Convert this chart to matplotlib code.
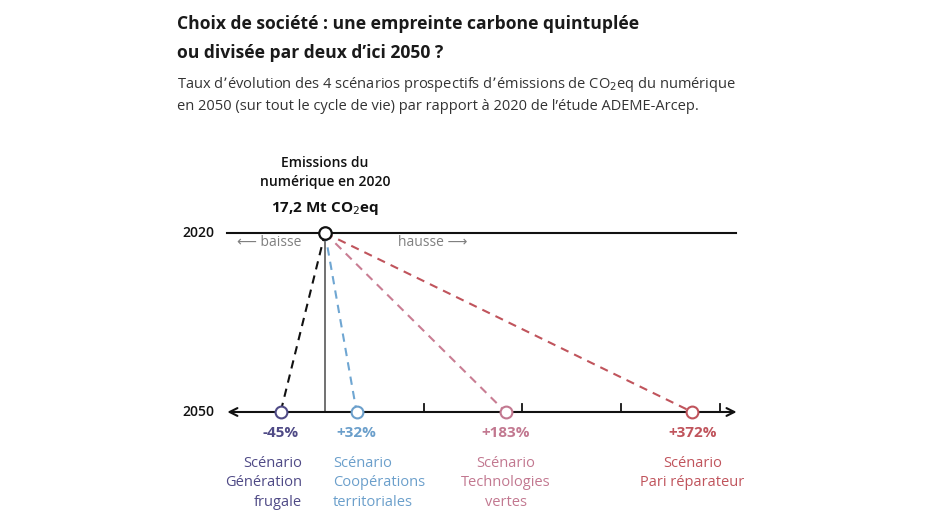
import matplotlib.pyplot as plt

# Data: evolution 2020 -> 2050 (%) for each ADEME-Arcep scenario
scenarios = ["Scénario\nGénération\nfrugale",
             "Scénario\nCoopérations\nterritoriales",
             "Scénario\nTechnologies\nvertes",
             "Scénario\nPari réparateur"]
evolution = [-45, 32, 183, 372]
labels = ["-45%", "+32%", "+183%", "+372%"]
tick_values = [100, 200, 300, 400]
years = [2020, 2050]
emissions_2020 = "17,2 Mt CO$_2$eq"

text_colors = ["#4f4a86", "#6b9fcb", "#c27890", "#c0545c"]
line_colors = ["#111111", "#6fa6d2", "#c97d93", "#c0545c"]
label_ha = ["right", "left", "center", "center"]
label_dx = [22, -24, 0, 0]

plt.rcParams['font.family'] = ['Open Sans', 'DejaVu Sans']

fig = plt.figure(figsize=(9.28, 5.21), dpi=100)
ax = fig.add_axes([0, 0, 1, 1])
# x: % change (0 at px 325, ~0.987 px per %); y: year (2020 at px 233, 2050 at px 412)
ax.set_xlim(-329.3, 610.9)
ax.set_ylim(2068.27, 1980.95)
ax.axis('off')

y0, y1 = years

# 2020 line
ax.plot([-99, 416], [y0, y0], color='#111111', lw=1.5, zorder=1)
# 2050 axis with arrowheads
ax.annotate('', xy=(-99, y1), xytext=(417, y1),
            arrowprops=dict(arrowstyle='<->', color='#111111', lw=1.5,
                            mutation_scale=14, shrinkA=0, shrinkB=0))
for t in tick_values:
    ax.plot([t, t], [y1, y1 - 1.4], color='#111111', lw=1.3)

# vertical reference line
ax.plot([0, 0], [y0, y1], color='#666666', lw=1.3, zorder=1)

# dashed lines to each scenario
for v, lc in zip(evolution, line_colors):
    ax.plot([0, v], [y0, y1], color=lc, lw=1.5, ls=(0, (4, 3)), zorder=2)

for v, tc in zip(evolution, text_colors):
    ax.plot(v, y1, 'o', ms=8.5, mfc='white', mec=tc, mew=1.5, zorder=4)
ax.plot(0, y0, 'o', ms=9, mfc='white', mec='#111111', mew=1.6, zorder=4)

# percentage labels and scenario names
for v, lab, sc, tc, ha, dx in zip(evolution, labels, scenarios, text_colors, label_ha, label_dx):
    ax.text(v, y1 + 3.6, lab, color=tc, fontsize=11, fontweight='bold',
            ha='center', va='center')
    ax.text(v + dx, y1 + 7.4, sc, color=tc, fontsize=10.5, ha=ha, va='top',
            linespacing=1.38)

# year labels
for yr in years:
    ax.text(-145, yr, str(yr), fontsize=10, fontweight='semibold',
            ha='left', va='center', color='#111111')

ax.text(-89, y0 + 1.6, "⟵ baisse", fontsize=10, color='#808080',
        ha='left', va='center')
ax.text(74, y0 + 1.6, "hausse ⟶", fontsize=10, color='#808080',
        ha='left', va='center')

# 2020 annotation
ax.text(0, y0 - 10.2, "Emissions du\nnumérique en 2020", fontsize=10,
        fontweight='semibold', ha='center', va='center', linespacing=1.45,
        color='#111111')
ax.text(0, y0 - 4.1, emissions_2020, fontsize=11, fontweight='bold',
        ha='center', va='center', color='#111111')

# title and subtitle
fig.text(177 / 928, 1 - 15 / 521,
         "Choix de société : une empreinte carbone quintuplée\nou divisée par deux d’ici 2050 ?",
         fontsize=12.6, fontweight='bold', ha='left', va='top', linespacing=1.8,
         color='#1a1a1a')
fig.text(177 / 928, 1 - 75 / 521,
         "Taux d’évolution des 4 scénarios prospectifs d’émissions de CO$_2$eq du numérique\n"
         "en 2050 (sur tout le cycle de vie) par rapport à 2020 de l’étude ADEME-Arcep.",
         fontsize=10.5, ha='left', va='top', linespacing=1.45, color='#333333')

fig.savefig('out.png', dpi=100)
